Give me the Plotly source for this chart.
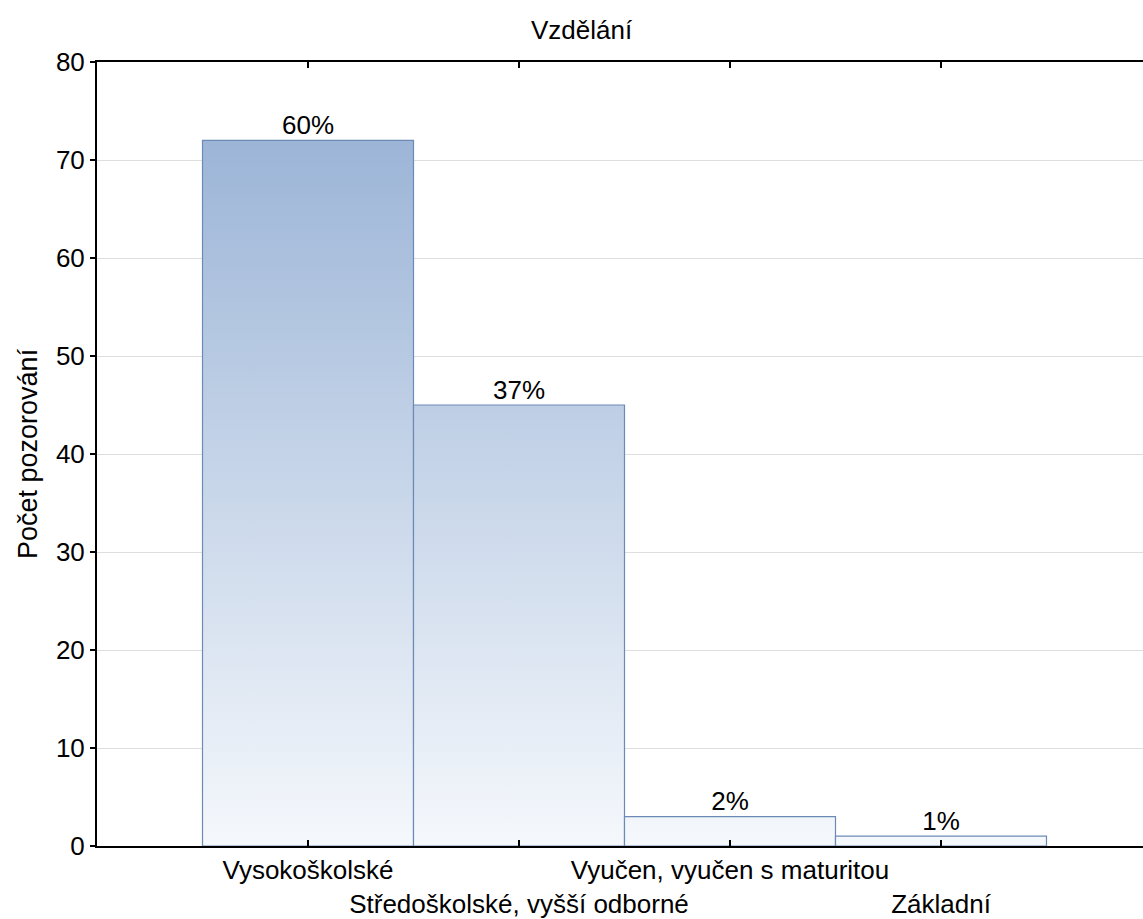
import plotly.graph_objects as go

# Education level counts (number of observations)
categories = [
    "Vysokoškolské",
    "Středoškolské, vyšší odborné",
    "Vyučen, vyučen s maturitou",
    "Základní",
]
counts = [72, 45, 3, 1]
y_ticks = [0, 10, 20, 30, 40, 50, 60, 70, 80]

total = sum(counts)
percent_labels = [f"{round(c / total * 100)}%" for c in counts]

# alternate category labels on two rows so the long names do not collide
tick_text = [name if i % 2 == 0 else "<br>" + name for i, name in enumerate(categories)]

FONT = "Liberation Sans, Arial, sans-serif"
FS = 26
W, H = 1143, 919
ML, MR, MT, MB = 97, 0, 62, 73
UNIT_PX = 211  # width of one category slot in pixels
x_max = -1 + (W - ML - MR) / UNIT_PX

fig = go.Figure()

# histogram-style bars with a vertical gradient shared across the value axis
for i, v in enumerate(counts):
    fig.add_trace(go.Scatter(
        x=[i - 0.5, i - 0.5, i + 0.5, i + 0.5, i - 0.5],
        y=[0, v, v, 0, 0],
        mode="lines",
        fill="toself",
        fillgradient=dict(
            type="vertical",
            colorscale=[[0, "#f5f8fc"], [1, "#9cb5d7"]],
            start=0,
            stop=max(counts),
        ),
        line=dict(color="#6c8ab6", width=1.2),
        hoverinfo="skip",
        showlegend=False,
    ))

# percentage labels above the bars
fig.add_trace(go.Scatter(
    x=list(range(len(counts))),
    y=counts,
    mode="text",
    text=percent_labels,
    textposition="top center",
    textfont=dict(family=FONT, size=FS, color="#000000"),
    hoverinfo="skip",
    showlegend=False,
))

fig.update_layout(
    width=W,
    height=H,
    margin=dict(l=ML, r=MR, t=MT, b=MB),
    paper_bgcolor="#ffffff",
    plot_bgcolor="#ffffff",
    font=dict(family=FONT, size=FS, color="#000000"),
    xaxis=dict(
        range=[-1, x_max],
        tickmode="array",
        tickvals=list(range(len(categories))),
        ticktext=tick_text,
        tickangle=0,
        automargin=False,
        ticks="inside",
        ticklen=6,
        tickwidth=2,
        tickcolor="#000000",
        showline=True,
        linecolor="#000000",
        linewidth=2,
        mirror="ticks",
        showgrid=False,
        zeroline=False,
        tickfont=dict(family=FONT, size=FS, color="#000000"),
    ),
    yaxis=dict(
        range=[0, 80],
        tickmode="array",
        tickvals=y_ticks,
        automargin=False,
        ticks="outside",
        ticklen=5,
        tickwidth=2,
        tickcolor="#000000",
        showline=True,
        linecolor="#000000",
        linewidth=2,
        showgrid=True,
        gridcolor="#dedede",
        gridwidth=1,
        zeroline=False,
        tickfont=dict(family=FONT, size=FS, color="#000000"),
    ),
    annotations=[
        dict(
            text="Vzdělání",
            xref="paper", yref="paper",
            x=(582 - ML) / (W - ML - MR), y=1,
            yshift=32,
            xanchor="center", yanchor="middle",
            showarrow=False,
            font=dict(family=FONT, size=FS, color="#000000"),
        ),
        dict(
            text="Počet pozorování",
            xref="paper", yref="paper",
            x=(28 - ML) / (W - ML - MR), y=0.5,
            textangle=-90,
            xanchor="center", yanchor="middle",
            showarrow=False,
            font=dict(family=FONT, size=27, color="#000000"),
        ),
    ],
)

fig.write_html("out.html")
